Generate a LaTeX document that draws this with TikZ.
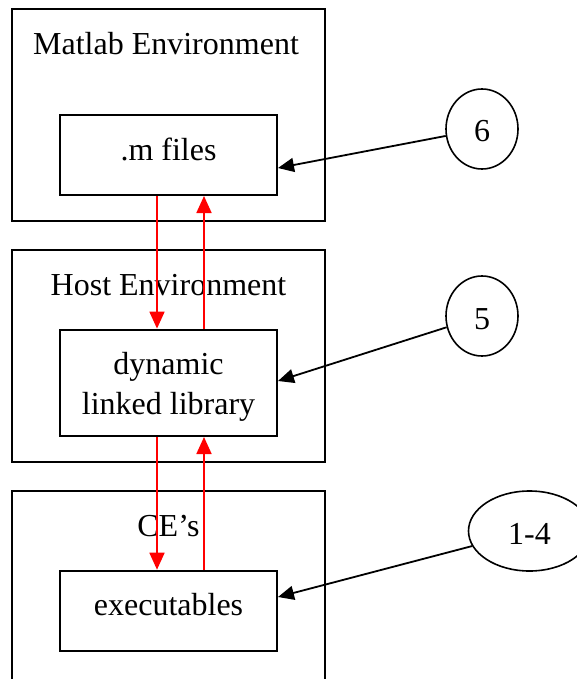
\documentclass[tikz,border=0pt]{standalone}
\usepackage{fontspec}
\setmainfont{Liberation Serif}
\usetikzlibrary{arrows.meta,calc,shapes.geometric}
\begin{document}
\begin{tikzpicture}[x=1pt,y=-1pt,
  envbox/.style={draw,line width=2pt,minimum width=313pt,minimum height=212pt,inner sep=0pt},
  itembox/.style={draw,line width=2pt,minimum width=217pt,inner sep=0pt},
  lbl/.style={font=\fontsize{32}{40.5}\selectfont,inner sep=0pt,anchor=base,align=center},
  stepcircle/.style={draw,ellipse,line width=1.6pt,inner sep=0pt},
  blk/.style={line width=1.8pt,-{Triangle[length=16pt,width=14pt]}},
  redarr/.style={red,line width=1.8pt,-{Triangle[length=17pt,width=15pt]}}
]
\useasboundingbox (0,0) rectangle (577,679);
\clip (0,0) rectangle (577,679);
% environment boxes
\node[envbox] (envA) at (168.5,115) {};
\node[envbox] (envB) at (168.5,356.2) {};
\node[envbox] (envC) at (168.5,597) {};
% titles
\node[lbl] (tA) at (166,54.6) {Matlab Environment};
\node[lbl] (tB) at (168.5,295.7) {Host Environment};
\node[lbl] (tC) at (168.5,536.4) {CE’s};
% inner boxes
\node[itembox,minimum height=79.5pt] (m) at (168.5,155.25) {};
\node[itembox,minimum height=106.4pt] (d) at (168.5,382.8) {};
\node[itembox,minimum height=80.1pt] (x) at (168.5,610.75) {};
\node[lbl] (mt) at (168.5,160.5) {.m files};
\node[lbl] (dt) at (168.5,414.5) {dynamic\\linked library};
\node[lbl] (xt) at (168.5,615) {executables};
% step markers
\node[stepcircle,minimum width=72pt,minimum height=80pt] (c6) at (482,129) {};
\node[lbl] at (482,141.3) {6};
\node[stepcircle,minimum width=72pt,minimum height=80pt] (c5) at (482,316) {};
\node[lbl] at (482,329) {5};
\node[stepcircle,minimum width=122pt,minimum height=80pt] (c14) at (529.5,531) {};
\node[lbl] at (529.5,544) {1-4};
% black arrows
\coordinate (pm) at ($(m.east)+(0,12.75)$);
\coordinate (pd) at ($(d.east)+(0,-1.8)$);
\coordinate (px) at ($(x.east)+(0,-13.75)$);
\draw[blk] (c6) -- (pm);
\draw[blk] (c5) -- (pd);
\draw[blk] (c14) -- (px);
% red arrows
\draw[redarr] ($(m.south)+(-11.5,0)$) -- ($(d.north)+(-11.5,0)$);
\draw[redarr] ($(d.north)+(35.5,0)$) -- ($(m.south)+(35.5,0)$);
\draw[redarr] ($(d.south)+(-11.5,0)$) -- ($(x.north)+(-11.5,0)$);
\draw[redarr] ($(x.north)+(35.5,0)$) -- ($(d.south)+(35.5,0)$);
\end{tikzpicture}
\end{document}
